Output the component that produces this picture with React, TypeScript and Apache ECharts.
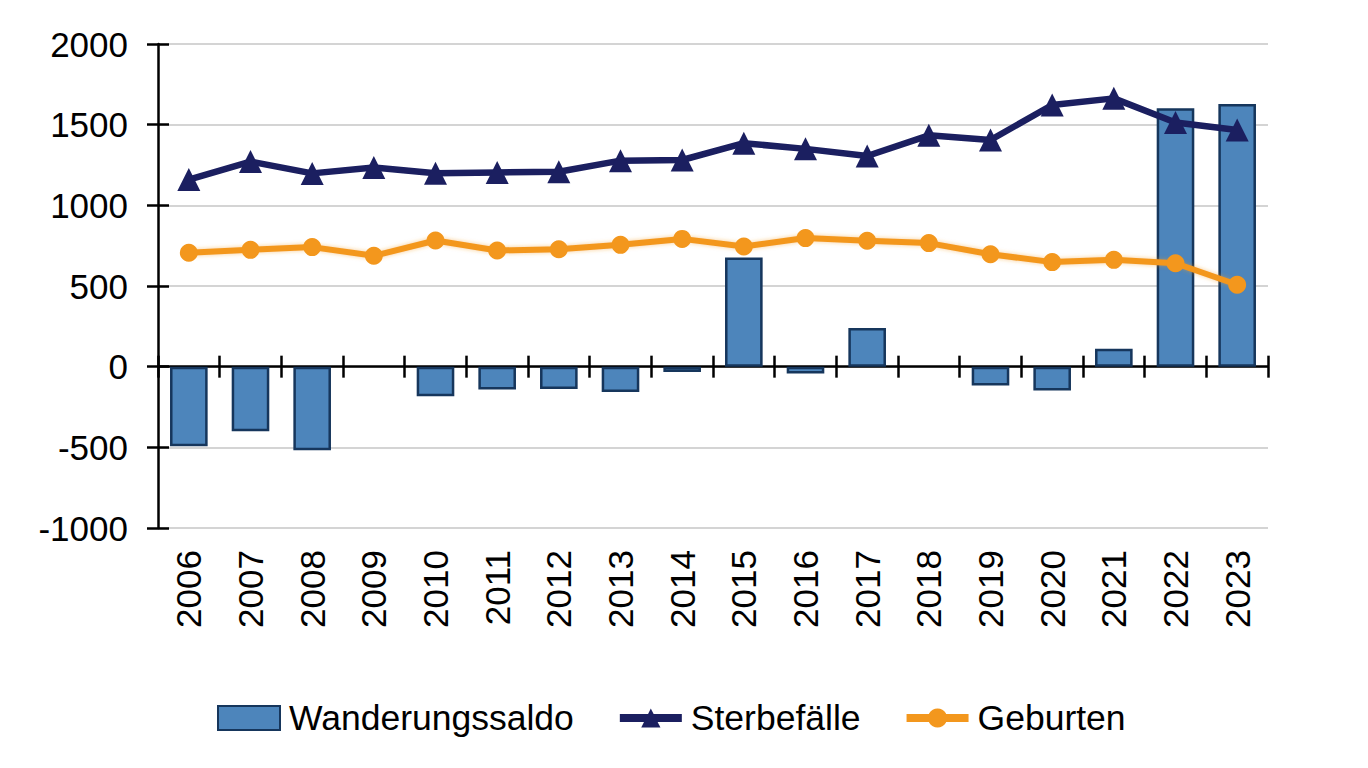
import React, { useRef, useEffect } from 'react';
import * as echarts from 'echarts';

const years = [
  '2006', '2007', '2008', '2009', '2010', '2011', '2012', '2013', '2014',
  '2015', '2016', '2017', '2018', '2019', '2020', '2021', '2022', '2023',
];
const wanderungssaldo = [
  -493, -400, -518, null, -184, -142, -138, -157, -33,
  677, -43, 240, null, -116, -147, 111, 1602, 1628,
];
const sterbefaelle = [
  1160, 1271, 1198, 1234, 1199, 1204, 1208, 1277, 1281,
  1385, 1350, 1306, 1434, 1405, 1622, 1663, 1513, 1467,
];
const geburten = [
  706, 724, 741, 687, 782, 720, 728, 755, 792,
  745, 797, 780, 766, 697, 648, 662, 641, 508,
];

const FONT = '"Liberation Sans", Arial, sans-serif';
const BAR_FILL = '#4d85bb';
const BAR_BORDER = '#16365c';
const NAVY = '#1b1f60';
const ORANGE = '#f3971d';

const App: React.FC = () => {
  const chartRef = useRef<HTMLDivElement>(null);

  useEffect(() => {
    if (!chartRef.current) return;
    document.body.style.margin = '0';
    const chart = echarts.init(chartRef.current, undefined, { renderer: 'svg' });

    const valueAxisBase = {
      type: 'value' as const,
      min: -1000,
      max: 2000,
      interval: 500,
    };

    const option: echarts.EChartsOption = {
      animation: false,
      backgroundColor: '#ffffff',
      textStyle: { fontFamily: FONT },
      grid: { left: 158, right: 100, top: 44, bottom: 240, containLabel: false },
      legend: {
        bottom: 27,
        left: 212,
        itemWidth: 62,
        itemHeight: 24,
        itemGap: 42,
        textStyle: { fontFamily: FONT, fontSize: 35.5, color: '#000', padding: [0, 0, 0, 4] },
        data: [
          { name: 'Wanderungssaldo', icon: 'rect' },
          { name: 'Sterbefälle', lineStyle: { width: 8 } } as any,
          { name: 'Geburten', lineStyle: { width: 8 } } as any,
        ],
      },
      xAxis: [
        {
          type: 'category',
          data: years,
          position: 'bottom',
          axisLine: { show: false, onZero: false },
          axisTick: { show: false },
          axisLabel: {
            rotate: 90,
            margin: 22,
            fontSize: 35,
            color: '#000',
            fontFamily: FONT,
          },
        },
        {
          type: 'category',
          data: years,
          position: 'bottom',
          axisLine: { show: true, onZero: true, lineStyle: { color: '#000', width: 2.5 } },
          axisTick: { show: true, length: 11, lineStyle: { color: '#000', width: 2.5 } },
          axisLabel: { show: false },
        },
        {
          type: 'category',
          data: years,
          position: 'top',
          axisLine: { show: false, onZero: true },
          axisTick: { show: true, length: 11, lineStyle: { color: '#000', width: 2.5 } },
          axisLabel: { show: false },
        },
      ],
      yAxis: [
        {
          ...valueAxisBase,
          position: 'left',
          axisLine: { show: true, lineStyle: { color: '#000', width: 2.5 } },
          axisTick: { show: true, length: 11, lineStyle: { color: '#000', width: 2.5 } },
          axisLabel: {
            margin: 30,
            fontSize: 35,
            color: '#000',
            fontFamily: FONT,
            formatter: (v: number) => String(v),
          },
          splitLine: { show: true, lineStyle: { color: '#d4d4d4', width: 2 } },
        },
        {
          ...valueAxisBase,
          position: 'left',
          axisLine: { show: false },
          axisTick: { show: true, inside: true, length: 11, lineStyle: { color: '#000', width: 2.5 } },
          axisLabel: { show: false },
          splitLine: { show: false },
        },
      ],
      series: [
        {
          name: 'Wanderungssaldo',
          type: 'bar',
          xAxisIndex: 0,
          yAxisIndex: 0,
          data: wanderungssaldo,
          barWidth: '61%',
          itemStyle: { color: BAR_FILL, borderColor: BAR_BORDER, borderWidth: 2.5 },
          z: 2,
        },
        {
          name: 'Sterbefälle',
          type: 'line',
          xAxisIndex: 0,
          yAxisIndex: 0,
          data: sterbefaelle,
          symbol: 'triangle',
          symbolSize: 23,
          lineStyle: { color: NAVY, width: 6.5 },
          itemStyle: { color: NAVY },
          z: 4,
        },
        {
          name: 'Geburten',
          type: 'line',
          xAxisIndex: 0,
          yAxisIndex: 0,
          data: geburten,
          symbol: 'circle',
          symbolSize: 18,
          lineStyle: {
            color: ORANGE,
            width: 6,
            shadowBlur: 4,
            shadowColor: 'rgba(243,151,29,0.5)',
          },
          itemStyle: { color: ORANGE },
          z: 3,
        },
      ],
    };

    chart.setOption(option);

    const handleResize = () => chart.resize();
    window.addEventListener('resize', handleResize);
    return () => {
      window.removeEventListener('resize', handleResize);
      chart.dispose();
    };
  }, []);

  return (
    <div
      ref={chartRef}
      style={{ position: 'absolute', left: 0, top: 0, width: 1368, height: 768 }}
    />
  );
};

export default App;
